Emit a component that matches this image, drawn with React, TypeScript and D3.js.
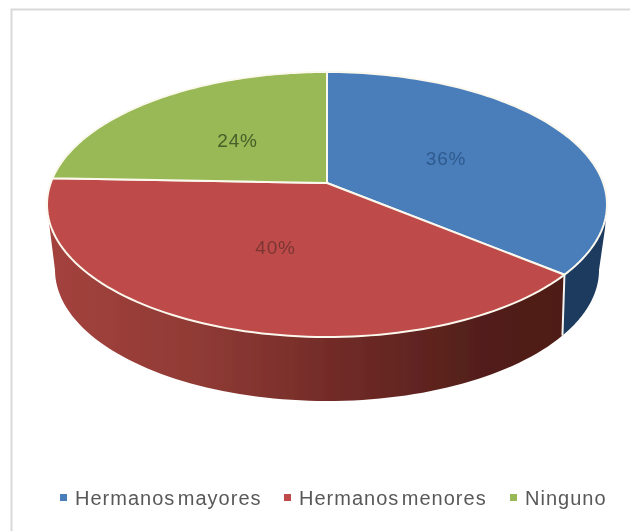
import React from "react";
import * as d3 from "d3";

const categories = ["Hermanos mayores", "Hermanos menores", "Ninguno"];
const values = [36, 39.6, 24.4];
const topColors = ["#4a7ebb", "#be4b48", "#98b954"];
const wallColors = ["#1b3a5f", "#7a2a27", "#5f7530"];
const labels = ["36%", "40%", "24%"];
const labelColors = ["#2f5a8e", "#7c3634", "#45602a"];

const W = 630, H = 531;
const CX = 327, CY = 204.5, RX = 280, RY = 132.5;
const B_CX = 327, B_CY = 270, B_RX = 272, B_RY = 131;
const HUB_Y = 183;
const b0 = (HUB_Y - CY) / RY;

const labelPos: [number, number][] = [[446, 160], [275.5, 249], [237.5, 142]];
const legendX = [60, 284, 510];

// projective map of the pie's flat disc onto the drawn ellipse
function project(angle: number, r = 1): [number, number] {
  const u = r * Math.sin(angle), v = -r * Math.cos(angle);
  const d = 1 + b0 * v;
  const a = (u * Math.sqrt(1 - b0 * b0)) / d;
  const b = (v + b0) / d;
  return [CX + RX * a, CY + RY * b];
}

const line = d3.line<[number, number]>().x(p => p[0]).y(p => p[1]);

export default function App() {
  const arcs = d3.pie<number>().sort(null)(values);
  const hub = project(0, 0);

  const sampled = (a0: number, a1: number, n = 90) =>
    d3.range(n + 1).map(i => project(a0 + ((a1 - a0) * i) / n));

  const bottomPoint = (t: number): [number, number] => [B_CX + B_RX * Math.cos(t), B_CY + B_RY * Math.sin(t)];
  const cut = project(arcs[0].endAngle);
  const cutT = Math.acos((cut[0] - 2 - B_CX) / B_RX);
  const cutBottom = bottomPoint(cutT);

  const bottomArc = (t0: number, t1: number, n = 80) =>
    d3.range(n + 1).map(i => bottomPoint(t0 + ((t1 - t0) * i) / n));

  const blueWall: [number, number][] = [
    hub, [CX + RX - 1, CY + 12], [CX + RX - 2, CY + 24], [B_CX + B_RX, B_CY],
    ...bottomArc(0, cutT), cut,
  ];
  const redWall: [number, number][] = [
    hub, cut, ...bottomArc(cutT, Math.PI), [CX - RX + 1, CY + 10],
  ];

  const faces = arcs.map(a => [hub, ...sampled(a.startAngle, a.endAngle)] as [number, number][]);

  return (
    <svg width={W} height={H} style={{ position: "absolute", left: 0, top: 0, background: "#fff" }}>
      <defs>
        <linearGradient id="redWall" gradientUnits="userSpaceOnUse" x1={47} x2={565} y1={0} y2={0}>
          <stop offset="0" stopColor="#a4423d" />
          <stop offset="0.3" stopColor="#8f3a35" />
          <stop offset="0.58" stopColor="#6f2a26" />
          <stop offset="0.85" stopColor="#521e1a" />
          <stop offset="1" stopColor="#4e1c18" />
        </linearGradient>
        <filter id="soft" x="-5%" y="-5%" width="110%" height="110%">
          <feGaussianBlur stdDeviation="0.6" />
        </filter>
      </defs>
      <g filter="url(#soft)">
        <path d={`M11.5,${H} V9.5 H${W}`} fill="none" stroke="#d9d9d9" strokeWidth={2} />
        <path d={line(blueWall)! + "Z"} fill={wallColors[0]} />
        <path d={line(redWall)! + "Z"} fill="url(#redWall)" />
        <path d={line([cut, cutBottom])!} stroke="#f4f4f0" strokeWidth={2} fill="none" />
        {faces.map((f, i) => (
          <path key={i} d={line(f)! + "Z"} fill={topColors[i]} stroke="#fbf8ee" strokeWidth={2} strokeLinejoin="round" />
        ))}
        {labels.map((t, i) => (
          <text key={t} x={labelPos[i][0]} y={labelPos[i][1]} textAnchor="middle" dominantBaseline="middle"
            fontFamily="Liberation Sans" fontSize={19} letterSpacing={0.8} fill={labelColors[i]}>{t}</text>
        ))}
        {categories.map((c, i) => (
          <g key={c}>
            <rect x={legendX[i]} y={494} width={7} height={7} fill={topColors[i]} />
            <text x={legendX[i] + 15} y={504.5} fontFamily="Liberation Sans" fontSize={20} fill="#595959" letterSpacing={1} wordSpacing={-4}>{c}</text>
          </g>
        ))}
      </g>
    </svg>
  );
}
